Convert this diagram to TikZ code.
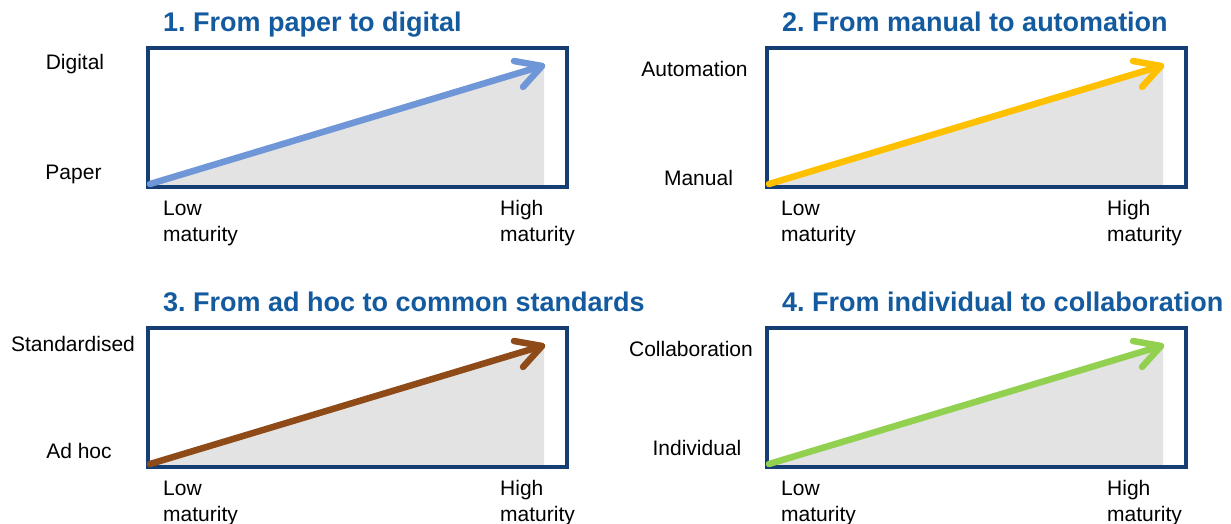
\documentclass[tikz,border=0pt]{standalone}
\usepackage{fontspec}
\setmainfont{Liberation Sans}
\usetikzlibrary{arrows.meta}
\definecolor{boxblue}{HTML}{153E75}
\definecolor{titleblue}{HTML}{145A9E}
\definecolor{shade}{HTML}{E3E3E3}
\definecolor{arrA}{HTML}{6F96D6}
\definecolor{arrB}{HTML}{FFC000}
\definecolor{arrC}{HTML}{8E4A17}
\definecolor{arrD}{HTML}{92D050}
\frenchspacing
\tikzset{
  frame/.style={draw=boxblue,line width=4pt},
  shadetri/.style={fill=shade,draw=none},
  trend/.style={line width=6.5pt,line cap=round,line join=round},
  ttl/.style={anchor=base west,text=titleblue,font=\fontsize{27}{30}\selectfont\bfseries,inner sep=0pt},
  lbl/.style={font=\fontsize{21}{26}\selectfont,inner sep=0pt},
  axl/.style={font=\fontsize{21}{26}\selectfont,inner sep=0pt,anchor=base west,align=left},
}
\begin{document}
\begin{tikzpicture}[x=1pt,y=-1pt]
\useasboundingbox (0,0) rectangle (1231,524);
% ---------- Panel 1
\begin{scope}
\fill[shadetri] (150,185) -- (544,185) -- (544,65) -- cycle;
\draw[frame] (148,48) rectangle (567,187);
\coordinate (s1) at (150,184);
\coordinate (t1) at (542,66);
\draw[trend,arrA] (s1) -- (t1);
\draw[trend,arrA] (514,61) -- (t1) -- (523,87);
\node[ttl] (ti1) at (163,32) {1. From paper to digital};
\node[lbl] (hi1) at (75,64) {Digital};
\node[lbl] (lo1) at (73.5,174) {Paper};
\node[axl] (lm1) at (163,241) {Low\\maturity};
\node[axl] (hm1) at (500,241) {High\\maturity};
\end{scope}
% ---------- Panel 2
\begin{scope}[xshift=619pt]
\fill[shadetri] (150,185) -- (544,185) -- (544,65) -- cycle;
\draw[frame] (148,48) rectangle (567,187);
\coordinate (s2) at (150,184);
\coordinate (t2) at (542,66);
\draw[trend,arrB] (s2) -- (t2);
\draw[trend,arrB] (514,61) -- (t2) -- (523,87);
\node[ttl] (ti2) at (163,32) {2. From manual to automation};
\end{scope}
\node[lbl] (hi2) at (694.5,69) {Automation};
\node[lbl] (lo2) at (698.5,178) {Manual};
\node[axl] (lm2) at (781,241) {Low\\maturity};
\node[axl] (hm2) at (1107,241) {High\\maturity};
% ---------- Panel 3
\begin{scope}[yshift=-280pt]
\fill[shadetri] (150,185) -- (544,185) -- (544,65) -- cycle;
\draw[frame] (148,48) rectangle (567,187);
\coordinate (s3) at (150,184);
\coordinate (t3) at (542,66);
\draw[trend,arrC] (s3) -- (t3);
\draw[trend,arrC] (514,61) -- (t3) -- (523,87);
\node[ttl] (ti3) at (163,31) {3. From ad hoc to common standards};
\end{scope}
\node[lbl] (hi3) at (73,344) {Standardised};
\node[lbl] (lo3) at (79,451) {Ad hoc};
\node[axl] (lm3) at (163,521) {Low\\maturity};
\node[axl] (hm3) at (500,521) {High\\maturity};
% ---------- Panel 4
\begin{scope}[xshift=619pt,yshift=-280pt]
\fill[shadetri] (150,185) -- (544,185) -- (544,65) -- cycle;
\draw[frame] (148,48) rectangle (567,187);
\coordinate (s4) at (150,184);
\coordinate (t4) at (542,66);
\draw[trend,arrD] (s4) -- (t4);
\draw[trend,arrD] (514,61) -- (t4) -- (523,87);
\node[ttl] (ti4) at (163,31) {4. From individual to collaboration};
\end{scope}
\node[lbl] (hi4) at (691,349) {Collaboration};
\node[lbl] (lo4) at (697,448) {Individual};
\node[axl] (lm4) at (781,521) {Low\\maturity};
\node[axl] (hm4) at (1107,521) {High\\maturity};
\end{tikzpicture}
\end{document}
